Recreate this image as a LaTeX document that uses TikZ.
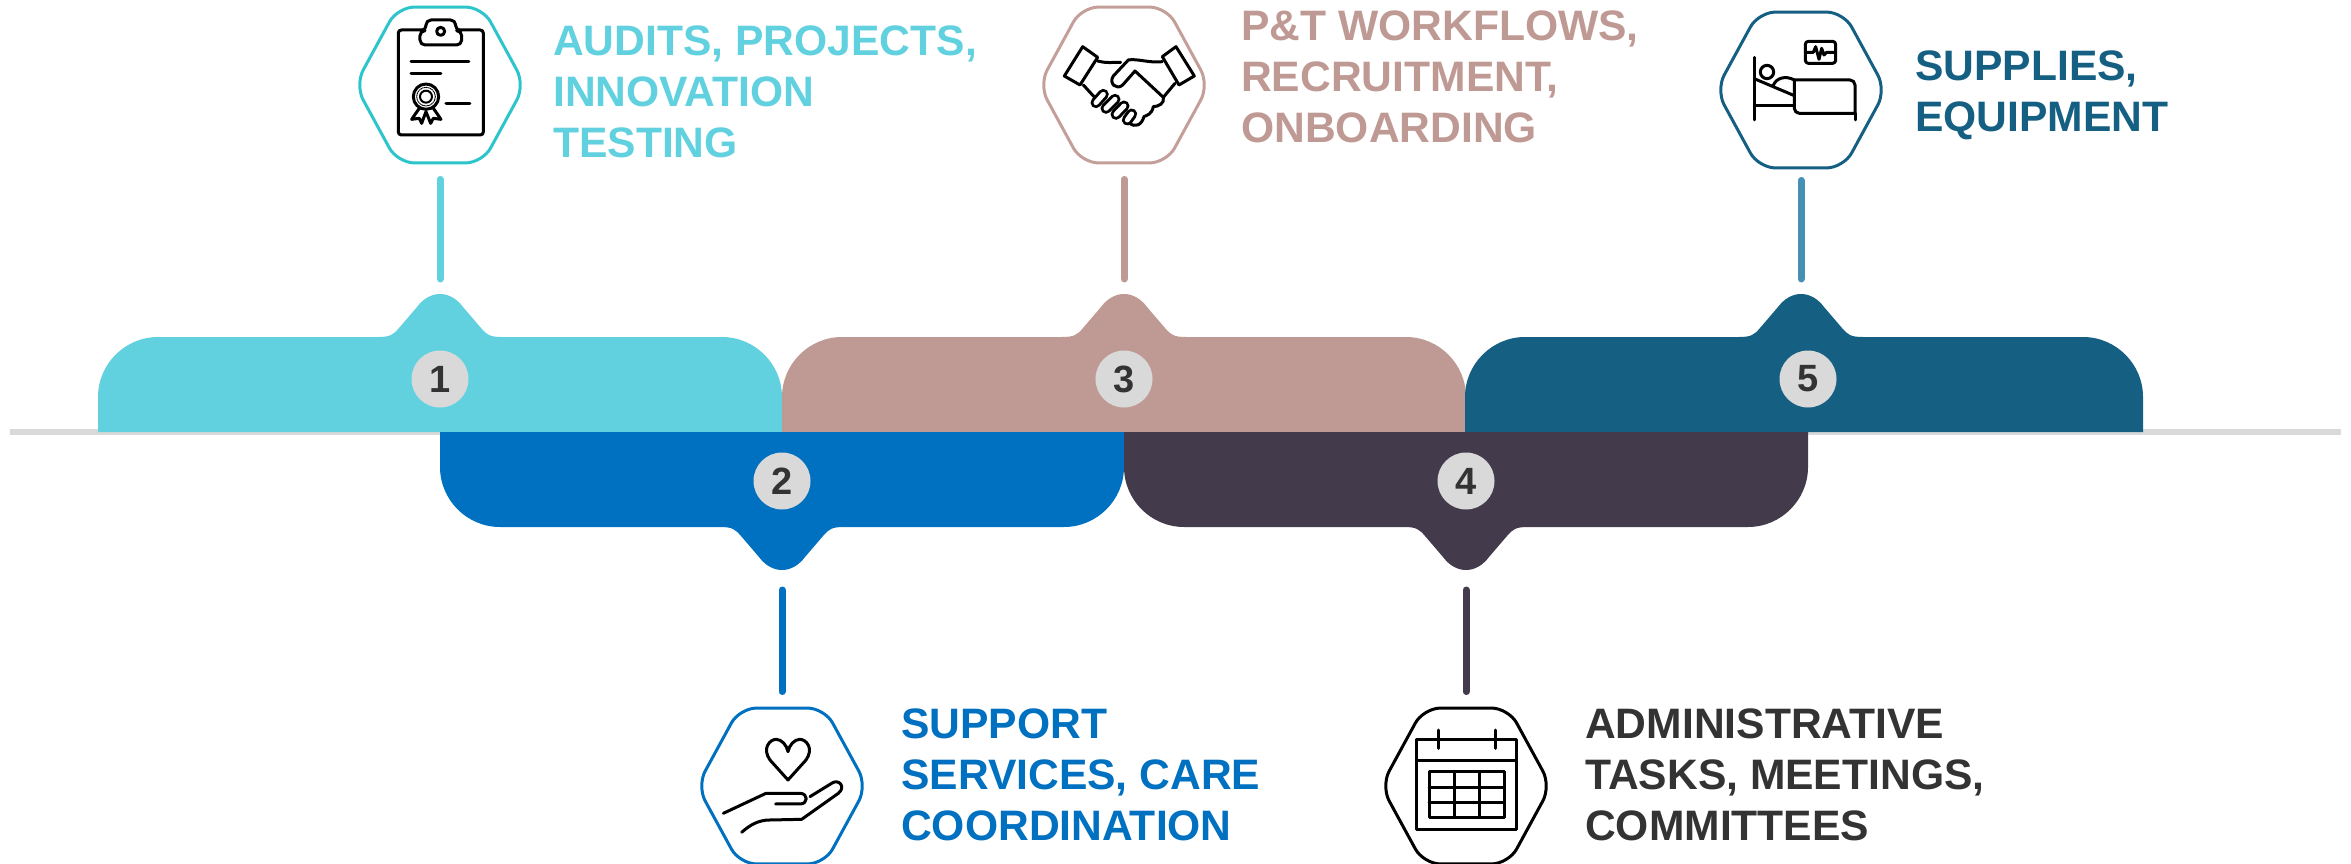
\documentclass[tikz,border=0pt]{standalone}
\usepackage{fontspec}
\setmainfont{Liberation Sans}
\usetikzlibrary{shapes.geometric}

\definecolor{tealtab}{HTML}{61D1E0}
\definecolor{bluetab}{HTML}{0070C0}
\definecolor{rosetab}{HTML}{BF9A94}
\definecolor{darktab}{HTML}{433A4C}
\definecolor{navytab}{HTML}{156082}
\definecolor{hexteal}{HTML}{2EC4CC}
\definecolor{hexrose}{HTML}{C49F99}
\definecolor{stemnavy}{HTML}{4790B5}
\definecolor{darktext}{HTML}{333333}

\tikzset{
    hexnode/.style = {draw = #1, line width = 3, regular polygon, regular polygon sides = 6,
        minimum size = 180, inner sep = 0, rounded corners = 17, xscale = 0.944, transform shape},
    numnode/.style = {circle, fill = black!15, text = darktext, minimum size = 57, inner sep = 0,
        font = \fontsize{38}{38}\selectfont\bfseries},
    labelnode/.style = {anchor = west, align = left, inner sep = 0,
        font = \fontsize{42.6}{51}\selectfont\bfseries},
    stem/.style = {line width = 7, line cap = round, shorten > = 15, shorten < = 15},
    ink/.style = {draw = black, line width = 3, line join = round, line cap = round}
}

% one tab, drawn around its tip on the axis
\newcommand{\tabshape}[2]{
    (#1,0) -- ++(0,-35) .. controls +(0,-33) and +(-33,0) .. ++(60,-60) -- (-62,-95)
    .. controls (-50,-95) and (-47,-97) .. (-41,-104) -- (-23,-125)
    .. controls (-17,-133) and (-9,-138) .. (0,-138)
    .. controls (9,-138) and (17,-133) .. (23,-125) -- (41,-104)
    .. controls (47,-97) and (50,-95) .. (62,-95) -- (#2-60,-95)
    .. controls +(33,0) and +(0,-33) .. ++(60,60) -- (#2,0) -- cycle
}

\begin{document}
\begin{tikzpicture}[x = 1pt, y = -1pt]
    \useasboundingbox (0,0) rectangle (2351,864);

    \fill [black!15] (10,429) rectangle (2341,435);

    \fill [tealtab] [shift = {(440,432)}] \tabshape{-342}{342};
    \fill [rosetab] [shift = {(1124,432)}] \tabshape{-342}{342};
    \fill [navytab] [shift = {(1801,432)}] \tabshape{-336}{342};
    \fill [bluetab] [shift = {(782,432)}, yscale = -1] \tabshape{-342}{342};
    \fill [darktab] [shift = {(1466,432)}, yscale = -1] \tabshape{-342}{342};

    \node [numnode] (num1) at (440,379) {1};
    \node [numnode] (num2) at (782,481) {2};
    \node [numnode] (num3) at (1124,379) {3};
    \node [numnode] (num4) at (1466,481) {4};
    \node [numnode] (num5) at (1808,379) {5};

    \coordinate (tip1) at (440,294);
    \coordinate (tip2) at (782,575);
    \coordinate (tip3) at (1124,294);
    \coordinate (tip4) at (1466,575);
    \coordinate (tip5) at (1801,294);

    \node [hexnode = hexteal] (hex1) at (440,85) {};
    \node [hexnode = bluetab] (hex2) at (782,786) {};
    \node [hexnode = hexrose] (hex3) at (1124,85) {};
    \node [hexnode = black]   (hex4) at (1466,786) {};
    \node [hexnode = navytab] (hex5) at (1801,90) {};

    \draw [stem, tealtab]  (hex1) -- (tip1);
    \draw [stem, bluetab]  (hex2) -- (tip2);
    \draw [stem, rosetab]  (hex3) -- (tip3);
    \draw [stem, darktab]  (hex4) -- (tip4);
    \draw [stem, stemnavy, shorten < = 11] (hex5) -- (tip5);

    \node [labelnode, text = tealtab] (text1) at (553,92) {AUDITS, PROJECTS,\\INNOVATION\\TESTING};
    \node [labelnode, text = bluetab] (text2) at (901,775) {SUPPORT\\SERVICES, CARE\\COORDINATION};
    \node [labelnode, text = rosetab] (text3) at (1241,76.5) {P\&T WORKFLOWS,\\RECRUITMENT,\\ONBOARDING};
    \node [labelnode, text = darktext] (text4) at (1585,775) {ADMINISTRATIVE\\TASKS, MEETINGS,\\COMMITTEES};
    \node [labelnode, text = navytab] (text5) at (1915,95) {SUPPLIES,\\EQUIPMENT};

    % clipboard
    \begin{scope}[shift = {(340,0)}, x = 0.3333pt, y = -0.3333pt]
        \draw [ink, rounded corners = 3] (175,90) rectangle (430,405);
        \draw [ink, fill = white, rounded corners = 5] (240,92) -- (240,135) -- (365,135) -- (365,92) -- (347,92) -- (347,60) -- (258,60) -- (258,92) -- cycle;
        \draw [ink] (302,94) circle [radius = 12];
        \draw [ink] (213,184) -- (387,184);
        \draw [ink] (213,220) -- (303,220);
        \draw [ink] (318,310) -- (390,310);
        \draw [ink] (240,322) -- (215,358) -- (238,355) -- (245,370) -- (258,335) -- (272,370) -- (280,355) -- (303,358) -- (278,322);
        \draw [ink, fill = white] (258,290) circle [radius = 38];
        \draw [ink, line width = 1, densely dotted] (258,290) circle [radius = 28];
        \draw [ink, line width = 2] (258,290) circle [radius = 18];
    \end{scope}

    % handshake
    \begin{scope}[shift = {(1030,0)}, x = 0.3333pt, y = -0.3333pt]
        \draw [ink] (158,140) -- (203,172) -- (150,255) -- (103,228) -- cycle;
        \draw [ink] (438,140) -- (397,170) -- (447,255) -- (493,228) -- cycle;
        \draw [ink] (203,183) .. controls (225,190) and (250,187) .. (272,187);
        \draw [ink] (397,185) .. controls (360,190) and (320,175) .. (295,180) -- (250,228)
            .. controls (235,250) and (260,272) .. (278,255) -- (315,213) -- (400,292);
        \draw [ink] (400,292) -- (435,250);
        \draw [ink] (400,292) .. controls (405,310) and (385,320) .. (370,320)
            .. controls (365,345) and (350,345) .. (342,350) .. controls (335,375) and (315,385) .. (297,368);
        \draw [ink] (160,255) -- (192,290);
        \foreach \ax/\ay/\bx/\by in {198/308/220/283, 228/325/255/298, 258/343/282/318, 292/360/305/342} {
            \draw [ink, line width = 11] (\ax,\ay) -- (\bx,\by);
            \draw [ink, draw = white, line width = 5] (\ax,\ay) -- (\bx,\by);
        }
    \end{scope}

    % patient in bed
    \begin{scope}[shift = {(1700,0)}, x = 0.3333pt, y = -0.3333pt]
        \draw [ink] (163,172) -- (163,360);
        \draw [ink] (465,340) -- (465,360);
        \draw [ink] (201,216) circle [radius = 20];
        \draw [ink] (165,237) -- (283,287);
        \draw [ink] (165,316) -- (283,316);
        \draw [ink] (220,256) .. controls (228,235) and (255,225) .. (283,240);
        \draw [ink] (283,240) [rounded corners = 5] -- (465,240) [sharp corners] -- (465,340)
            [rounded corners = 5] -- (283,340) [sharp corners] -- cycle;
        \draw [ink, rounded corners = 3] (316,124) rectangle (407,190);
        \draw [ink] (316,157) -- (340,157) -- (347,140) -- (357,178) -- (365,145) -- (372,165) -- (380,157) -- (407,157);
    \end{scope}

    % heart in hand
    \begin{scope}[shift = {(690,690)}, x = 0.3333pt, y = -0.3333pt]
        \draw [ink] (294,270) -- (240,210) .. controls (215,175) and (240,148) .. (258,148)
            .. controls (275,148) and (290,165) .. (294,185) .. controls (298,165) and (313,148) .. (330,148)
            .. controls (348,148) and (373,175) .. (348,210) -- cycle;
        \draw [ink] (100,370) -- (228,310) -- (330,310) .. controls (355,310) and (355,342) .. (330,342) -- (257,342);
        \draw [ink] (155,427) .. controls (180,405) and (205,390) .. (240,390) -- (335,388) -- (445,310)
            .. controls (470,290) and (445,265) .. (425,280) -- (360,320);
    \end{scope}

    % calendar
    \begin{scope}[shift = {(1370,690)}, x = 0.3333pt, y = -0.3333pt]
        \draw [ink, line cap = butt] (140,148) rectangle (438,418);
        \draw [ink] (140,212) -- (438,212);
        \draw [ink] (204,120) -- (204,175);
        \draw [ink] (375,120) -- (375,175);
        \draw [ink, line cap = butt] (177,246) rectangle (403,383);
        \draw [ink] (254,246) -- (254,383);
        \draw [ink] (327,246) -- (327,383);
        \draw [ink] (177,292) -- (403,292);
        \draw [ink] (177,338) -- (403,338);
    \end{scope}
\end{tikzpicture}
\end{document}
